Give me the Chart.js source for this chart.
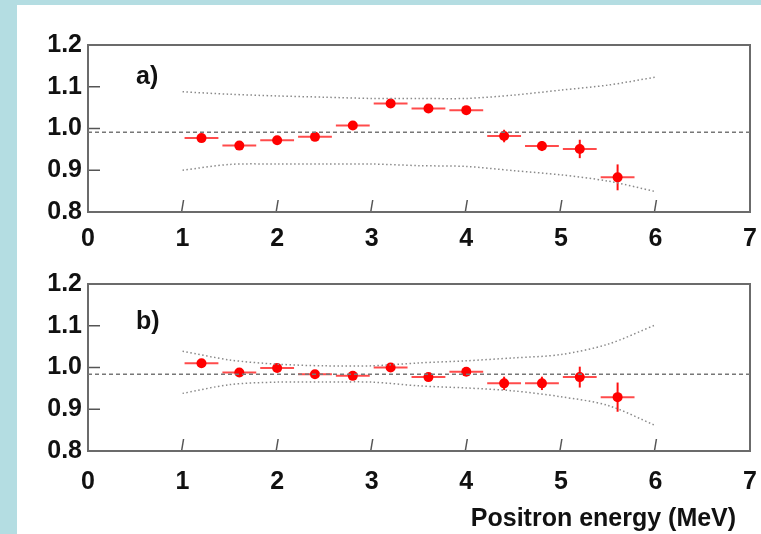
<!DOCTYPE html>
<html>
<head>
<meta charset="utf-8">
<script src="https://cdn.jsdelivr.net/npm/chart.js@4.4.1/dist/chart.umd.min.js"></script>
<style>
body { margin:0; width:761px; height:534px; overflow:hidden; position:relative; background:#b4dde2; }
#panel { position:absolute; left:17px; top:5px; width:744px; height:529px; background:#fff; }
canvas { position:absolute; }
</style>
</head>
<body>
<div id="panel"></div>
<canvas id="ratioA" style="left:17px;top:5px" width="744" height="250"></canvas>
<canvas id="ratioB" style="left:17px;top:255px" width="744" height="279"></canvas>
<script>
// bin centres (MeV) and half bin width
const energy = [1.2, 1.6, 2.0, 2.4, 2.8, 3.2, 3.6, 4.0, 4.4, 4.8, 5.2, 5.6];
const binHalf = 0.2;

// panel a)
const ratioA = [0.977, 0.959, 0.972, 0.980, 1.007, 1.060, 1.048, 1.044, 0.982, 0.958, 0.951, 0.883];
const errA   = [0.007, 0.007, 0.007, 0.007, 0.008, 0.008, 0.008, 0.009, 0.015, 0.012, 0.022, 0.031];
// panel b)
const ratioB = [1.010, 0.988, 0.999, 0.984, 0.980, 1.000, 0.977, 0.990, 0.962, 0.962, 0.977, 0.929];
const errB   = [0.006, 0.006, 0.006, 0.006, 0.006, 0.007, 0.007, 0.008, 0.016, 0.016, 0.025, 0.035];

// dotted error bands
const bandX  = [1.0, 1.5, 2.0, 2.5, 3.0, 3.5, 4.0, 4.5, 5.0, 5.5, 6.0];
const upperA = [1.088, 1.082, 1.078, 1.075, 1.072, 1.072, 1.072, 1.080, 1.092, 1.104, 1.123];
const lowerA = [0.900, 0.914, 0.915, 0.915, 0.915, 0.911, 0.909, 0.899, 0.889, 0.874, 0.849];
const upperB = [1.039, 1.018, 1.008, 1.004, 1.004, 1.011, 1.016, 1.023, 1.031, 1.056, 1.102];
const lowerB = [0.938, 0.959, 0.965, 0.965, 0.965, 0.956, 0.951, 0.944, 0.930, 0.909, 0.861];

// dashed reference level
const refX = [0, 7];
const refA = 0.991;
const refB = 0.984;

// ticks
const xTicks = [0, 1, 2, 3, 4, 5, 6, 7];
const xMarks = [1, 2, 3, 4, 5, 6];
const yTicks = [0.8, 0.9, 1.0, 1.1, 1.2];
const yMarks = [0.9, 1.0, 1.1];

const FONT = '"Liberation Sans", Arial, sans-serif';
const tickFont = { family: FONT, weight: 'bold', size: 25 };

// frame, inner tick marks and panel letter
const framePlugin = {
  id: 'frame',
  beforeDatasetsDraw(chart, args, opts) {
    const { ctx, chartArea: a, scales: { x, y } } = chart;
    ctx.save();
    ctx.strokeStyle = '#555';
    ctx.lineWidth = 1.5;
    xMarks.forEach(v => {
      const px = x.getPixelForValue(v);
      ctx.beginPath(); ctx.moveTo(px - 1, a.bottom); ctx.lineTo(px + 1, a.bottom - 12); ctx.stroke();
    });
    yMarks.forEach(v => {
      const py = y.getPixelForValue(v);
      ctx.beginPath(); ctx.moveTo(a.left, py); ctx.lineTo(a.left + 12, py); ctx.stroke();
    });
    ctx.strokeStyle = '#6b6b6b';
    ctx.lineWidth = 2;
    ctx.strokeRect(a.left, a.top, a.width, a.height);
    ctx.fillStyle = '#111';
    ctx.font = 'bold 25px ' + FONT;
    ctx.textBaseline = 'middle';
    ctx.fillText(opts.text, a.left + opts.dx, a.top + opts.dy);
    ctx.restore();
  }
};

// error bars under the red points
const errorPlugin = {
  id: 'errs',
  beforeDatasetDraw(chart, args) {
    const ds = chart.data.datasets[args.index];
    if (!ds.errors) return;
    const { ctx, scales: { x, y } } = chart;
    ctx.save();
    ds.data.forEach((p, i) => {
      const px = x.getPixelForValue(p.x), py = y.getPixelForValue(p.y);
      ctx.strokeStyle = 'rgba(255,30,30,0.8)';
      ctx.lineWidth = 2;
      ctx.beginPath();
      ctx.moveTo(x.getPixelForValue(p.x - binHalf) + 2, py);
      ctx.lineTo(x.getPixelForValue(p.x + binHalf) - 2, py);
      ctx.stroke();
      ctx.strokeStyle = '#ff1010';
      ctx.beginPath();
      ctx.moveTo(px, y.getPixelForValue(p.y - ds.errors[i]));
      ctx.lineTo(px, y.getPixelForValue(p.y + ds.errors[i]));
      ctx.stroke();
    });
    ctx.restore();
  }
};

function makeChart(id, ratio, err, upper, lower, ref, letter, padTop, axisHeight, labelPad, withTitle) {
  const context = document.getElementById(id).getContext('2d');
  const band = arr => bandX.map((x, i) => ({ x: x, y: arr[i] }));
  return new Chart(context, {
    type: 'scatter',
    data: {
      datasets: [
        {
          data: refX.map(x => ({ x: x, y: ref })),
          showLine: true, borderColor: '#777', borderWidth: 1.5, borderDash: [4, 3],
          pointRadius: 0
        },
        {
          data: band(upper),
          showLine: true, borderColor: '#8a8a8a', borderWidth: 1.5, borderDash: [1.5, 2.5],
          pointRadius: 0, tension: 0.3
        },
        {
          data: band(lower),
          showLine: true, borderColor: '#8a8a8a', borderWidth: 1.5, borderDash: [1.5, 2.5],
          pointRadius: 0, tension: 0.3
        },
        {
          data: energy.map((x, i) => ({ x: x, y: ratio[i] })),
          errors: err,
          pointRadius: 5, pointBackgroundColor: '#ff0000', pointBorderColor: '#ff0000', pointBorderWidth: 0
        }
      ]
    },
    options: {
      responsive: false,
      animation: false,
      layout: { padding: { top: padTop, right: 11, left: 0, bottom: 0 } },
      plugins: {
        legend: { display: false },
        tooltip: { enabled: false },
        frame: letter
      },
      scales: {
        x: {
          type: 'linear', min: 0, max: 7,
          afterBuildTicks: s => { s.ticks = xTicks.map(v => ({ value: v })); },
          afterFit: s => { s.height = axisHeight; s.paddingLeft = 0; s.paddingRight = 0; },
          grid: { display: false, drawTicks: false },
          border: { display: false },
          ticks: { font: tickFont, color: '#111', padding: labelPad, maxRotation: 0 },
          title: {
            display: withTitle, text: 'Positron energy (MeV)  ', align: 'end',
            font: { family: FONT, weight: 'bold', size: 25 }, color: '#111',
            padding: { top: 0, bottom: 0 }
          }
        },
        y: {
          min: 0.8, max: 1.2,
          afterBuildTicks: s => { s.ticks = yTicks.map(v => ({ value: v })); },
          afterFit: s => { s.width = 71; s.paddingTop = 0; s.paddingBottom = 0; },
          grid: { display: false, drawTicks: false },
          border: { display: false },
          ticks: { font: tickFont, color: '#111', padding: 6, callback: v => v.toFixed(1) }
        }
      }
    },
    plugins: [framePlugin, errorPlugin]
  });
}

makeChart('ratioA', ratioA, errA, upperA, lowerA, refA, { text: 'a)', dx: 48, dy: 32 }, 40, 43, 12, false);
makeChart('ratioB', ratioB, errB, upperB, lowerB, refB, { text: 'b)', dx: 48, dy: 38 }, 29, 83, 16, true);
</script>
</body>
</html>
